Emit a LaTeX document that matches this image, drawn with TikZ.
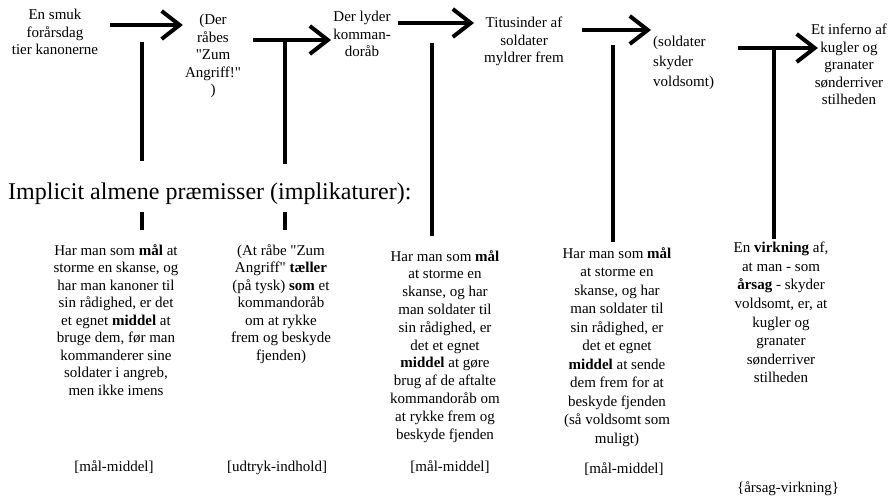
\documentclass[tikz,border=0pt]{standalone}
\usepackage{fontspec}
\setmainfont{Liberation Serif}
\usetikzlibrary{arrows.meta, positioning, calc}

\begin{document}
\begin{tikzpicture}[
    x=1pt, y=-1pt,
    every node/.style={inner sep=0pt, font=\fontsize{15}{17.5}\selectfont}, % body text
    event/.style={align=center, anchor=north},   % top chain of events
    premise/.style={align=center, anchor=north}, % implicit premises
    tag/.style={anchor=base},                    % relation labels
    flow/.style={line width=4pt, -{Straight Barb[length=18pt, width=28pt]}, shorten >=2pt}, % thick arrows
    stem/.style={line width=4pt}                 % vertical bars
]
    \useasboundingbox (0,0) rectangle (889,497);

    % 1. chain of events (top row)
    \node[event] (t1) at (55,9) {En smuk\\forårsdag\\tier kanonerne};
    \node[event] (t2) at (213,14) {(Der\\råbes\\\textquotedbl Zum\\Angriff!\textquotedbl\\)};
    \node[event] (t3) at (362,11) {Der lyder\\komman-\\doråb};
    \node[event] (t4) at (524,17) {Titusinder af\\soldater\\myldrer frem};
    \node[anchor=north west, align=left, font=\fontsize{15}{20}\selectfont] (t5) at (653,36) {(soldater\\skyder\\voldsomt)};
    \node[event] (t6) at (849,24) {Et inferno af\\kugler og\\granater\\sønderriver\\stilheden};

    % 2. arrows between the events
    \coordinate (a1) at (110,25);
    \coordinate (a2) at (253,40);
    \coordinate (a3) at (398,23);
    \coordinate (a4) at (582,30);
    \coordinate (a5) at (738,48);
    \draw[flow] (a1) -- (a1 -| t2.west);
    \draw[flow] (a2) -- (a2 -| t3.west);
    \draw[flow, shorten >=10pt] (a3) -- (a3 -| t4.west);
    \draw[flow] (a4) -- (a4 -| t5.west);
    \draw[flow, shorten >=-7pt] (a5) -- (a5 -| t6.west);

    % 3. heading
    \node[anchor=base west, font=\fontsize{24}{28}\selectfont] (head) at (8,200) {Implicit almene præmisser (implikaturer):};

    % 4. premises
    \node[premise] (p1) at (116,244) {Har man som \textbf{mål} at\\storme en skanse, og\\har man kanoner til\\sin rådighed, er det\\et egnet \textbf{middel} at\\bruge dem, før man\\kommanderer sine\\soldater i angreb,\\men ikke imens};
    \node[premise] (p2) at (281,244) {(At råbe \textquotedbl Zum\\Angriff\textquotedbl{} \textbf{tæller}\\(på tysk) \textbf{som} et\\kommandoråb\\om at rykke\\frem og beskyde\\fjenden)};
    \node[premise, font=\fontsize{15}{17.8}\selectfont] (p3) at (445,250) {Har man som \textbf{mål}\\at storme en\\skanse, og har\\man soldater til\\sin rådighed, er\\det et egnet\\\textbf{middel} at gøre\\brug af de aftalte\\kommandoråb om\\at rykke frem og\\beskyde fjenden};
    \node[premise, font=\fontsize{15}{18.5}\selectfont] (p4) at (617,247) {Har man som \textbf{mål}\\at storme en\\skanse, og har\\man soldater til\\sin rådighed, er\\det et egnet\\\textbf{middel} at sende\\dem frem for at\\beskyde fjenden\\(så voldsomt som\\muligt)};
    \node[premise, font=\fontsize{15}{18.6}\selectfont] (p5) at (781,242) {En \textbf{virkning} af,\\at man - som\\\textbf{årsag} - skyder\\voldsomt, er, at\\kugler og\\granater\\sønderriver\\stilheden};

    % 5. bars from the arrows down to the premises
    \coordinate (v1) at (142,42);
    \coordinate (v2) at (285,40);
    \coordinate (v3) at (432,43);
    \coordinate (v4) at (613,45);
    \coordinate (v5) at (774,48);
    \draw[stem, shorten >=22pt] (v1) -- (v1 |- head.north);
    \draw[stem, shorten >=19pt] (v2) -- (v2 |- head.north);
    \draw[stem, shorten <=7pt, shorten >=14pt] (v1 |- head.south) -- (v1 |- p1.north);
    \draw[stem, shorten <=7pt, shorten >=14pt] (v2 |- head.south) -- (v2 |- p2.north);
    \draw[stem, shorten >=14pt] (v3) -- (v3 |- p3.north);
    \draw[stem, shorten >=5pt] (v4) -- (v4 |- p4.north);
    \draw[stem, shorten >=3pt] (v5) -- (v5 |- p5.north);

    % 6. relation labels
    \node[tag] (r1) at (114,471) {[mål-middel]};
    \node[tag] (r2) at (277,471) {[udtryk-indhold]};
    \node[tag] (r3) at (450,471) {[mål-middel]};
    \node[tag] (r4) at (624,473) {[mål-middel]};
    \node[tag] (r5) at (788,492) {\{årsag-virkning\}};
\end{tikzpicture}
\end{document}
